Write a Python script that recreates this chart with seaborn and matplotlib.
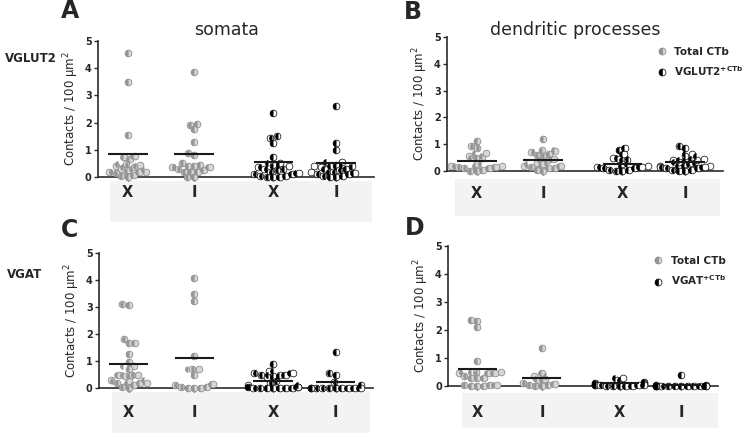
import numpy as np
import pandas as pd
import matplotlib
matplotlib.use("Agg")
import matplotlib.pyplot as plt
import seaborn as sns
from matplotlib.markers import MarkerStyle
from matplotlib.lines import Line2D
from matplotlib.patches import Rectangle
from matplotlib.transforms import Affine2D

sns.set_theme(style="ticks")
plt.rcParams['font.family'] = ['DejaVu Sans']

# ---------------- data ----------------
categories = ["X", "I", "X", "I"]
positions = [0.0, 1.0, 2.2, 3.15]
y_ticks = [0, 1, 2, 3, 4, 5]

# Panel A : VGLUT2, somata
a_total_x = [4.55, 3.5, 1.55, 0.78, 0.65, 0.72, 0.47, 0.42, 0.45, 0.35, 0.3, 0.25,
             0.17, 0.15, 0.2, 0.17, 0.08, 0.02, 0.0]
a_total_i = [3.85, 1.95, 1.93, 1.75, 1.3, 0.9, 0.8, 0.5, 0.45, 0.4, 0.4, 0.35, 0.35,
             0.3, 0.25, 0.2, 0.2, 0.18, 0.0, 0.0]
a_sub_x = [2.35, 1.5, 1.45, 1.25, 0.75, 0.5, 0.45, 0.4, 0.35, 0.3, 0.3, 0.25, 0.2,
           0.15, 0.1, 0.1, 0.05, 0.05, 0.0, 0.0, 0.0]
a_sub_i = [2.6, 1.25, 1.0, 0.55, 0.45, 0.4, 0.4, 0.35, 0.3, 0.3, 0.25, 0.2, 0.2,
           0.15, 0.1, 0.1, 0.05, 0.05, 0.0, 0.0]
a_means = [0.85, 0.85, 0.55, 0.5]

# Panel B : VGLUT2, dendritic processes
b_total_x = [1.12, 0.95, 0.85, 0.68, 0.55, 0.5, 0.48, 0.25, 0.2, 0.2, 0.15, 0.15,
             0.1, 0.1, 0.05, 0.0, 0.0]
b_total_i = [1.18, 0.78, 0.75, 0.72, 0.65, 0.6, 0.55, 0.45, 0.4, 0.3, 0.25, 0.2,
             0.2, 0.15, 0.1, 0.1, 0.05, 0.0]
b_sub_x = [0.87, 0.78, 0.62, 0.5, 0.45, 0.4, 0.25, 0.2, 0.15, 0.15, 0.1, 0.1, 0.05,
           0.05, 0.0, 0.0]
b_sub_i = [0.92, 0.85, 0.62, 0.55, 0.45, 0.42, 0.4, 0.35, 0.3, 0.25, 0.2, 0.2, 0.15,
           0.15, 0.1, 0.1, 0.05, 0.05, 0.0, 0.0]
b_means = [0.37, 0.42, 0.27, 0.32]

# Panel C : VGAT, somata
c_total_x = [3.1, 3.08, 1.8, 1.68, 1.65, 1.25, 0.95, 0.8, 0.7, 0.5, 0.5, 0.48, 0.45,
             0.28, 0.25, 0.2, 0.2, 0.18, 0.12, 0.05, 0.0]
c_total_i = [4.08, 3.5, 3.22, 1.2, 0.72, 0.72, 0.5, 0.15, 0.1, 0.05, 0.05, 0.0, 0.0, 0.0]
c_sub_x = [0.9, 0.62, 0.55, 0.55, 0.5, 0.5, 0.48, 0.45, 0.4, 0.25, 0.2, 0.1, 0.05,
           0.05, 0.02, 0.0, 0.0, 0.0, 0.0, 0.0, 0.0, 0.0]
c_sub_i = [1.35, 0.55, 0.5, 0.22, 0.12, 0.0, 0.0, 0.0, 0.0, 0.0, 0.0, 0.0, 0.0, 0.0, 0.0]
c_means = [0.9, 1.1, 0.25, 0.22]

# Panel D : VGAT, dendritic processes
d_total_x = [2.35, 2.33, 2.1, 0.9, 0.5, 0.5, 0.48, 0.45, 0.45, 0.35, 0.3, 0.3, 0.28,
             0.05, 0.05, 0.02, 0.0, 0.0, 0.0]
d_total_i = [1.35, 0.45, 0.35, 0.25, 0.2, 0.1, 0.08, 0.05, 0.02, 0.0, 0.0]
d_sub_x = [0.3, 0.2, 0.15, 0.12, 0.1, 0.08, 0.08, 0.05, 0.05, 0.05, 0.02, 0.02, 0.0,
           0.0, 0.0, 0.0, 0.0]
d_sub_i = [0.38, 0.05, 0.02, 0.0, 0.0, 0.0, 0.0, 0.0, 0.0, 0.0, 0.0, 0.0, 0.0, 0.0, 0.0]
d_means = [0.62, 0.27, 0.1, 0.02]

# ---------------- styling ----------------
W, H = 750, 438
GRAY_FACE, GRAY_HALF, GRAY_EDGE = "#d6d6d6", "#959595", "#808080"
BLK_FACE, BLK_HALF, BLK_EDGE = "white", "black", "black"
# swarm layout uses a slightly smaller nominal size so that dots may overlap (Prism-like)
MSIZE = 4.0
GROW = 1.22
FULL = MarkerStyle("o", transform=Affine2D().scale(GROW))
HALF = MarkerStyle("o", fillstyle="left", transform=Affine2D().scale(GROW))
LW = 0.5
BAND = "#f3f3f3"

fig = plt.figure(figsize=(W / 100, H / 100), dpi=100)


def rect(l, b, r, t):
    return [l / W, 1 - b / H, (r - l) / W, (b - t) / H]


def draw_panel(px, groups, means, label_pad, legend_sub=None):
    ax = fig.add_axes(rect(*px))
    ax.patch.set_visible(False)
    rows = []
    kinds = ["total", "total", "sub", "sub"]
    for pos, vals, kind in zip(positions, groups, kinds):
        for v in vals:
            rows.append({"pos": pos, "value": v, "kind": kind})
    df = pd.DataFrame(rows)
    for kind, face, halfc, edge in [("total", GRAY_FACE, GRAY_HALF, GRAY_EDGE),
                                    ("sub", BLK_FACE, BLK_HALF, BLK_EDGE)]:
        d = df[df["kind"] == kind]
        sns.swarmplot(data=d, x="pos", y="value", native_scale=True, orient="v",
                      ax=ax, size=MSIZE, color=face, edgecolor=edge, linewidth=LW,
                      marker=FULL, clip_on=False, zorder=3, warn_thresh=1.0)
        sns.swarmplot(data=d, x="pos", y="value", native_scale=True, orient="v",
                      ax=ax, size=MSIZE, color=halfc, edgecolor=halfc, linewidth=0.0,
                      marker=HALF, clip_on=False, zorder=4, warn_thresh=1.0)
    pos = np.array(positions)
    ax.hlines(means, pos - 0.3, pos + 0.3, color="#1a1a1a", lw=1.5, zorder=5,
              clip_on=False)
    ax.set_xlim(-0.45, 3.72)
    ax.set_ylim(0, 5)
    ax.set_xticks(positions, categories)
    ax.set_yticks(y_ticks)
    ax.set_xlabel("")
    ax.set_ylabel("Contacts / 100 µm$^2$", fontsize=8.5, labelpad=3)
    sns.despine(ax=ax)
    for s in ("left", "bottom"):
        ax.spines[s].set_linewidth(1.2)
        ax.spines[s].set_color("#2a2a2a")
    ax.spines["left"].set_bounds(0, 5)
    ax.tick_params(axis="y", length=3, width=1, pad=1.5, labelsize=7,
                   color="#2a2a2a")
    for t in ax.get_yticklabels():
        t.set_fontweight("bold")
    ax.tick_params(axis="x", length=3, width=1, pad=label_pad, labelsize=10.5,
                   color="#2a2a2a")
    for t in ax.get_xticklabels():
        t.set_fontweight("bold")
    if legend_sub is not None:
        h1 = Line2D([], [], marker="o", fillstyle="left", linestyle="none",
                    markersize=5.0, markerfacecolor=GRAY_HALF,
                    markerfacecoloralt=GRAY_FACE, markeredgecolor=GRAY_EDGE,
                    markeredgewidth=0.5)
        h2 = Line2D([], [], marker="o", fillstyle="left", linestyle="none",
                    markersize=5.0, markerfacecolor=BLK_HALF,
                    markerfacecoloralt=BLK_FACE, markeredgecolor=BLK_EDGE,
                    markeredgewidth=0.5)
        ax.legend([h1, h2], ["Total CTb", legend_sub], loc="upper left",
                  bbox_to_anchor=(0.74, 0.96), frameon=False,
                  handletextpad=0.6, labelspacing=0.75, handlelength=1.2,
                  borderaxespad=0, prop={"size": 7.5, "weight": "bold"})
    return ax


# background bands under the category labels
for l, t, r, b in [(110, 181, 372, 222), (455, 179, 720, 216),
                   (112, 392, 370, 433), (462, 393, 718, 428)]:
    fig.add_artist(Rectangle((l / W, 1 - b / H), (r - l) / W, (b - t) / H,
                             transform=fig.transFigure, facecolor=BAND,
                             edgecolor="none", zorder=-5))

axA = draw_panel((98, 177, 374, 41), [a_total_x, a_total_i, a_sub_x, a_sub_i],
                 a_means, 3)
axB = draw_panel((447, 171, 723, 37), [b_total_x, b_total_i, b_sub_x, b_sub_i],
                 b_means, 8, legend_sub=r"VGLUT2$^{\mathbf{+CTb}}$")
axC = draw_panel((99, 388, 373, 253), [c_total_x, c_total_i, c_sub_x, c_sub_i],
                 c_means, 9)
axD = draw_panel((448, 386, 718, 246), [d_total_x, d_total_i, d_sub_x, d_sub_i],
                 d_means, 11, legend_sub=r"VGAT$^{\mathbf{+CTb}}$")

# titles, panel letters, row labels
fig.text(227 / W, 1 - 30 / H, "somata", ha="center", va="center", fontsize=12.5)
fig.text(575 / W, 1 - 30 / H, "dendritic processes", ha="center", va="center",
         fontsize=12.5)
for x, y, s in [(61, 11, "A"), (404, 12, "B"), (61, 230, "C"), (405, 228, "D")]:
    fig.text(x / W, 1 - y / H, s, ha="left", va="center", fontsize=17,
             fontweight="bold")
fig.text(5 / W, 1 - 58 / H, "VGLUT2", ha="left", va="center", fontsize=8.5,
         fontweight="bold")
fig.text(7 / W, 1 - 275 / H, "VGAT", ha="left", va="center", fontsize=8.5,
         fontweight="bold")

fig.savefig("out.png", dpi=100)
